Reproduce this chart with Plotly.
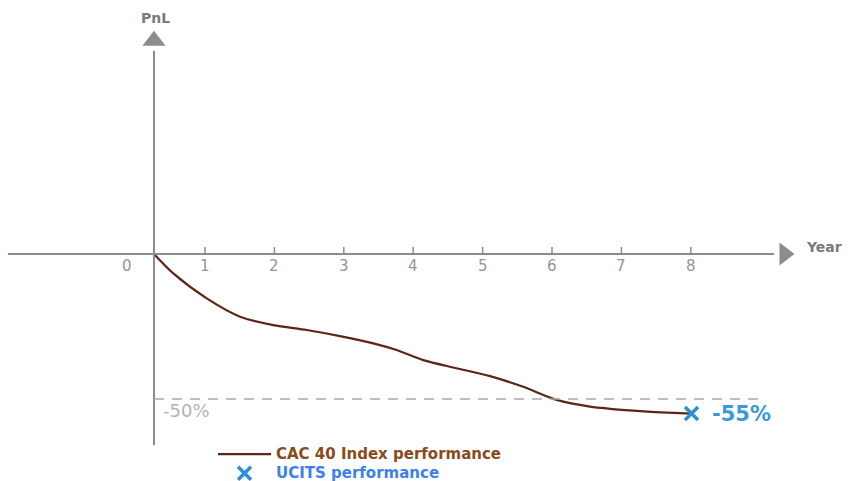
import plotly.graph_objects as go

# ---- data ----
years = [0.265, 0.543, 1.025, 1.504, 1.984, 2.465, 2.945, 3.425, 3.762, 4.146,
         4.627, 5.107, 5.586, 6.068, 6.548, 7.167, 7.844, 8.01]
cac40_pnl = [0, -6.7, -15.3, -21.6, -24.5, -26.2, -28.3, -30.8, -33.1, -36.6,
             -39.4, -42.1, -45.8, -50.3, -52.6, -54.0, -54.9, -55.0]
ucits_year = [8.01]
ucits_pnl = [-55.0]
year_ticks = [1, 2, 3, 4, 5, 6, 7, 8]
year_tick_labels = ["1", "2", "3", "4", "5", "6", "7", "8"]
threshold = -50
origin_year = 0.265

AXIS = "#8c8c8c"
TXT = "#959595"
BROWN_LINE = "#5b2614"
BROWN_TXT = "#8a4a1c"
BLUE = "#2f8fd4"
BLUE_TXT = "#3d7ef0"

W, H = 853, 489

fig = go.Figure()

# axis arrow heads
fig.add_trace(go.Scatter(x=[origin_year], y=[73.5], mode="markers",
                         marker=dict(symbol="triangle-up", size=20, color=AXIS),
                         showlegend=False, hoverinfo="skip"))
fig.add_trace(go.Scatter(x=[9.35], y=[0], mode="markers",
                         marker=dict(symbol="triangle-right", size=20, color=AXIS),
                         showlegend=False, hoverinfo="skip"))

fig.add_trace(go.Scatter(
    x=years, y=cac40_pnl, mode="lines",
    line=dict(color=BROWN_LINE, width=2.2, shape="spline", smoothing=0.8),
    name="<b><span style='color:%s;font-size:15px'>CAC 40 Index performance</span></b>" % BROWN_TXT))
fig.add_trace(go.Scatter(
    x=ucits_year, y=ucits_pnl, mode="markers",
    marker=dict(symbol="x-thin", size=13, line=dict(color=BLUE, width=3.5)),
    name="<b><span style='color:%s;font-size:15px'>UCITS performance</span></b>" % BLUE_TXT))

shapes = []
# axes
shapes.append(dict(type="line", x0=-1.84, x1=9.2, y0=0, y1=0, line=dict(color=AXIS, width=2)))
shapes.append(dict(type="line", x0=origin_year, x1=origin_year, y0=-65.9, y1=70,
                   line=dict(color=AXIS, width=2)))
# ticks
for t in year_ticks:
    shapes.append(dict(type="line", x0=t, x1=t, y0=0, y1=2.4, line=dict(color=AXIS, width=1.5)))
# -50% dashed line
shapes.append(dict(type="line", x0=origin_year, x1=9.07, y0=threshold, y1=threshold,
                   line=dict(color="#aaaaaa", width=1.5, dash="10px,8px")))

annotations = []
for t, lab in zip(year_ticks, year_tick_labels):
    annotations.append(dict(x=t, y=-4.2, text=lab, showarrow=False,
                            font=dict(family="DejaVu Sans", size=15, color=TXT)))
annotations.append(dict(x=-0.124, y=-4.2, text="0", showarrow=False,
                        font=dict(family="DejaVu Sans", size=15, color=TXT)))
annotations.append(dict(x=0.36, y=threshold - 3.8, text="-50%", showarrow=False, xanchor="left",
                        font=dict(family="DejaVu Sans", size=18, color="#b3b3b3")))
annotations.append(dict(x=8.27, y=ucits_pnl[0] - 0.3, text="<b>-55%</b>", showarrow=False, xanchor="left",
                        font=dict(family="DejaVu Sans", size=21, color="#3a9ad9")))
annotations.append(dict(x=0.29, y=81.5, text="<b>PnL</b>", showarrow=False,
                        font=dict(family="DejaVu Sans", size=14, color="#7a7a7a")))
annotations.append(dict(x=9.63, y=2.4, text="<b>Year</b>", showarrow=False, xanchor="left",
                        font=dict(family="DejaVu Sans", size=14, color="#7a7a7a")))

fig.update_layout(
    width=W, height=H,
    margin=dict(l=0, r=0, t=0, b=0),
    paper_bgcolor="white", plot_bgcolor="white",
    xaxis=dict(range=[-1.954, 10.337], visible=False, fixedrange=True),
    yaxis=dict(range=[-81.03, 87.59], visible=False, fixedrange=True),
    shapes=shapes, annotations=annotations,
    showlegend=True,
    legend=dict(x=213 / W, y=1 - 432.5 / 481, xanchor="left", yanchor="top",
                bgcolor="rgba(0,0,0,0)", tracegroupgap=0, itemwidth=53,
                font=dict(family="DejaVu Sans", size=12)),
)

fig.write_html(
    "out.html",
    config={"displayModeBar": False, "staticPlot": True},
    post_script=(
        "var st=document.createElement('style');"
        "st.textContent='html,body{margin:0;padding:0;overflow:hidden;}"
        ".plotly-graph-div,.svg-container,.main-svg{overflow:hidden !important;}';"
        "document.head.appendChild(st);"
        "var gd=document.getElementById('{plot_id}');"
        "gd.style.overflow='hidden';"
    ),
)
